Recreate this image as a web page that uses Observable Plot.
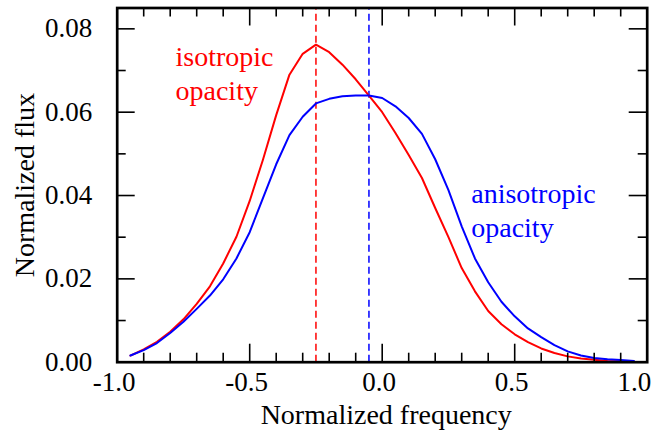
<!DOCTYPE html>
<html>
<head>
<meta charset="utf-8">
<script src="https://cdn.jsdelivr.net/npm/d3@7"></script>
<script src="https://cdn.jsdelivr.net/npm/@observablehq/plot@0.6"></script>
<style>
  html, body { margin: 0; padding: 0; background: #fff; }
  #chart svg { display: block; }
</style>
</head>
<body>
<div id="chart"></div>
<script>
// ---- data ----
const frequency = [-0.95,-0.90,-0.85,-0.80,-0.75,-0.70,-0.65,-0.60,-0.55,-0.50,-0.45,-0.40,-0.35,-0.30,-0.25,-0.20,-0.15,-0.10,-0.05,0.00,0.05,0.10,0.15,0.20,0.25,0.30,0.35,0.40,0.45,0.50,0.55,0.60,0.65,0.70,0.75,0.80,0.85,0.90,0.95];
const isotropic = [0.0016,0.0031,0.0049,0.0073,0.0103,0.0140,0.0182,0.0237,0.0301,0.0387,0.0486,0.0593,0.0690,0.0740,0.0762,0.0744,0.0714,0.0679,0.0640,0.0600,0.0550,0.0497,0.0442,0.0370,0.0300,0.0226,0.0170,0.0123,0.0091,0.0067,0.0048,0.0033,0.0022,0.0014,0.0009,0.0006,0.0003,0.0002,0.0001];
const anisotropic = [0.0016,0.0029,0.0046,0.0070,0.0097,0.0128,0.0160,0.0199,0.0249,0.0312,0.0394,0.0475,0.0545,0.0589,0.0621,0.0632,0.0638,0.0640,0.0640,0.0634,0.0614,0.0586,0.0548,0.0487,0.0413,0.0326,0.0249,0.0192,0.0145,0.0110,0.0081,0.0060,0.0041,0.0026,0.0016,0.0010,0.0007,0.0005,0.0003];
const peakFrequency = [-0.25, -0.05];
const seriesColors = ["#ff0000", "#0000ff"];
const seriesLabels = ["isotropic\nopacity", "anisotropic\nopacity"];
const labelX = [-0.78, 0.336];
const labelY = [0.0630, 0.0301];

const xMajorTicks = [-1.0, -0.5, 0.0, 0.5, 1.0];
const xTickLabels = ["-1.0", "-0.5", "0.0", "0.5", "1.0"];
const xMinorTicks = [-0.9,-0.8,-0.7,-0.6,-0.4,-0.3,-0.2,-0.1,0.1,0.2,0.3,0.4,0.6,0.7,0.8,0.9];
const yMajorTicks = [0.00, 0.02, 0.04, 0.06, 0.08];
const yTickLabels = ["0.00", "0.02", "0.04", "0.06", "0.08"];
const yMinorTicks = [0.01, 0.03, 0.05, 0.07];

const xDomain = [-1, 1];
const yDomain = [0, 0.085];

// ---- layout ----
const W = 658, H = 436;
const mL = 116.7, mR = 11.3, mT = 7.5, mB = 74.3;
const plotW = W - mL - mR, plotH = H - mT - mB;
const yPerPx = (yDomain[1] - yDomain[0]) / plotH;
const xPerPx = (xDomain[1] - xDomain[0]) / plotW;
const majorLen = 18, minorLen = 9;

const isoData = frequency.map((f, i) => ({f, v: isotropic[i]}));
const anisoData = frequency.map((f, i) => ({f, v: anisotropic[i]}));

const font = "Liberation Serif, 'Times New Roman', serif";

const xTickMarks = (ticks, len) => [
  Plot.ruleX(ticks, {x: d => d, y1: yDomain[0], y2: yDomain[0] + len * yPerPx, stroke: "#000", strokeWidth: 1.6}),
  Plot.ruleX(ticks, {x: d => d, y1: yDomain[1], y2: yDomain[1] - len * yPerPx, stroke: "#000", strokeWidth: 1.6})
];
const yTickMarks = (ticks, len) => [
  Plot.ruleY(ticks, {y: d => d, x1: xDomain[0], x2: xDomain[0] + len * xPerPx, stroke: "#000", strokeWidth: 1.6}),
  Plot.ruleY(ticks, {y: d => d, x1: xDomain[1], x2: xDomain[1] - len * xPerPx, stroke: "#000", strokeWidth: 1.6})
];

const innerX = xMajorTicks.slice(0, -1);
const lastX = xMajorTicks.slice(-1);

const chart = Plot.plot({
  width: W,
  height: H,
  marginLeft: mL,
  marginRight: mR,
  marginTop: mT,
  marginBottom: mB,
  style: {fontFamily: font, background: "#fff", color: "#000"},
  x: {domain: xDomain, axis: null},
  y: {domain: yDomain, axis: null},
  marks: [
    Plot.ruleX(peakFrequency, {x: d => d, y1: yDomain[0], y2: yDomain[1], stroke: (d, i) => seriesColors[i], strokeWidth: 1.5, strokeDasharray: "7,4"}),
    Plot.line(isoData, {x: "f", y: "v", stroke: seriesColors[0], strokeWidth: 2}),
    Plot.line(anisoData, {x: "f", y: "v", stroke: seriesColors[1], strokeWidth: 2}),
    ...xTickMarks(xMajorTicks, majorLen),
    ...xTickMarks(xMinorTicks, minorLen),
    ...yTickMarks(yMajorTicks, majorLen),
    ...yTickMarks(yMinorTicks, minorLen),
    Plot.frame({stroke: "#000", strokeWidth: 2.7}),
    // tick labels
    Plot.text(innerX, {x: d => d, y: yDomain[0], text: (d, i) => xTickLabels[i], dx: -3, dy: 28.5, lineAnchor: "bottom", fontSize: 27, fill: "#000"}),
    Plot.text(lastX, {x: d => d, y: yDomain[0], text: () => xTickLabels[xTickLabels.length - 1], dx: 4, dy: 28.5, textAnchor: "end", lineAnchor: "bottom", fontSize: 27, fill: "#000"}),
    Plot.text(yMajorTicks, {x: xDomain[0], y: d => d, text: (d, i) => yTickLabels[i], dx: -25, textAnchor: "end", lineAnchor: "middle", fontSize: 27, fill: "#000"}),
    // axis titles
    Plot.text(["Normalized frequency"], {frameAnchor: "bottom", dx: 4, dy: 62, textAnchor: "middle", lineAnchor: "bottom", fontSize: 28, fill: "#000"}),
    Plot.text(["Normalized flux"], {frameAnchor: "left", dx: -83.7, rotate: -90, textAnchor: "middle", lineAnchor: "bottom", fontSize: 28, fill: "#000"}),
    // series annotations
    Plot.text(seriesLabels, {x: (d, i) => labelX[i], y: (d, i) => labelY[i], text: d => d, fill: (d, i) => seriesColors[i], textAnchor: "start", lineAnchor: "bottom", lineHeight: 1.2, fontSize: 28})
  ]
});
document.getElementById("chart").appendChild(chart);
</script>
</body>
</html>
